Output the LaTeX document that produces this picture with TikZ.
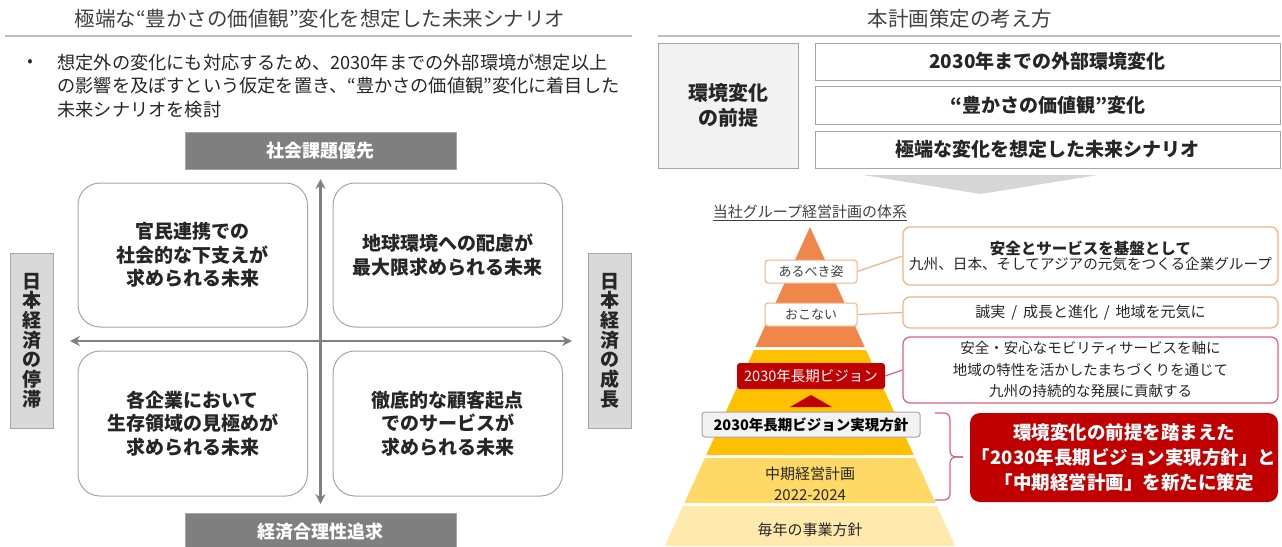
\documentclass[tikz,border=0pt]{standalone}
\usepackage{fontspec}
\setmainfont{Noto Sans CJK JP}
\usetikzlibrary{arrows.meta}
\definecolor{txt}{HTML}{262626}
\definecolor{ttl}{HTML}{404040}
\definecolor{rulegray}{HTML}{BFBFBF}
\definecolor{boxgray}{HTML}{A6A6A6}
\definecolor{darkgray}{HTML}{7F7F7F}
\definecolor{sidegray}{HTML}{D9D9D9}
\definecolor{paleg}{HTML}{F2F2F2}
\definecolor{axgray}{HTML}{808080}
\definecolor{chev}{HTML}{D6D6D6}
\definecolor{pyorange}{HTML}{F0874A}
\definecolor{pygold}{HTML}{FFC000}
\definecolor{pyyel}{HTML}{FFD966}
\definecolor{pypale}{HTML}{FFE9AD}
\definecolor{lorange}{HTML}{F4B183}
\definecolor{darkred}{HTML}{C00000}
\definecolor{pinkred}{HTML}{D9607A}
\newcommand\fsz[2]{\fontsize{#1}{#2}\selectfont}
\tikzset{
  qbox/.style={draw=boxgray, line width=1pt, rounded corners=22pt, fill=white,
    minimum width=229.5pt, minimum height=144pt, inner sep=0pt, align=center,
    font=\fsz{19}{23.5}\bfseries, text=txt},
  axisbox/.style={fill=darkgray, draw=boxgray, line width=0.6pt, minimum width=271pt,
    minimum height=37pt, inner sep=0pt, font=\fsz{18}{22}\bfseries, text=white},
  sidebox/.style={fill=sidegray, draw=boxgray, line width=0.8pt, minimum width=43pt,
    minimum height=175pt, inner sep=0pt, align=center, font=\fsz{19}{19.7}\bfseries, text=txt},
  axisline/.style={draw=axgray, line width=2.4pt, {Stealth[length=10pt,width=10pt]}-{Stealth[length=10pt,width=10pt]}},
  prembox/.style={draw=boxgray, line width=1pt, fill=white, minimum width=465pt,
    inner sep=0pt, font=\fsz{19}{23}\bfseries, text=txt},
  lvlabel/.style={draw=lorange, line width=1pt, fill=white, rounded corners=3pt,
    minimum width=92pt, minimum height=23pt, inner sep=0pt, font=\fsz{13}{16}, text=ttl},
  descbox/.style={line width=1.2pt, fill=white, rounded corners=7pt, minimum width=375pt,
    inner sep=0pt, align=center, text=txt},
  conn/.style={line width=1.2pt},
}
\begin{document}
\begin{tikzpicture}[x=1pt,y=-1pt]
\useasboundingbox (0,0) rectangle (1282,546);
% ---------------- left half ----------------
\node[font=\fsz{20.5}{24}, text=ttl] (ltitle) at (320,19) {極端な“豊かさの価値観”変化を想定した未来シナリオ};
\draw[rulegray, line width=1.4pt] (5,36) -- (632,36);
\node[font=\fsz{16}{20}, text=txt] (bullet) at (30,63) {•};
\node[anchor=west, align=left, font=\fsz{18.2}{23.5}, text=txt] (intro) at (54,86)
  {想定外の変化にも対応するため、2030年までの外部環境が想定以上\\の影響を及ぼすという仮定を置き、“豊かさの価値観”変化に着目した\\未来シナリオを検討};

\node[axisbox] (top) at (320.5,150.5) {社会課題優先};
\node[axisbox] (bottom) at (320.5,531.5) {経済合理性追求};
\node[sidebox] (left) at (31.5,340.5) {日\\本\\経\\済\\の\\停\\滞};
\node[sidebox] (right) at (609.5,340.5) {日\\本\\経\\済\\の\\成\\長};

\coordinate (axT) at (320.5,179);
\coordinate (axB) at (320.5,504);
\coordinate (axL) at (70,341);
\coordinate (axR) at (572,341);
\draw[axisline] (axB) -- (axT);
\draw[axisline] (axL) -- (axR);

\node[qbox] (q1) at (192.75,255) {官民連携での\\社会的な下支えが\\求められる未来};
\node[qbox] (q2) at (447.75,255) {地球環境への配慮が\\最大限求められる未来};
\node[qbox, minimum height=145pt] (q3) at (192.75,423.5) {各企業において\\生存領域の見極めが\\求められる未来};
\node[qbox, minimum height=145pt] (q4) at (447.75,423.5) {徹底的な顧客起点\\でのサービスが\\求められる未来};

% ---------------- right half ----------------
\node[font=\fsz{20.5}{24}, text=ttl] (rtitle) at (960,19) {本計画策定の考え方};
\draw[rulegray, line width=1.4pt] (658,36) -- (1280,36);

\node[draw=boxgray, line width=1pt, fill=paleg, minimum width=140pt, minimum height=125pt,
  inner sep=0pt, align=center, font=\fsz{20}{25}\bfseries, text=txt] (premise) at (728,105.5) {環境変化\\の前提};
\node[prembox, minimum height=37pt] (p1) at (1047.5,61.5) {2030年までの外部環境変化};
\node[prembox, minimum height=38pt] (p2) at (1047.5,105) {“豊かさの価値観”変化};
\node[prembox, minimum height=37pt] (p3) at (1047.5,149.5) {極端な変化を想定した未来シナリオ};

\fill[chev] (863,175) -- (1098,175) -- (980.5,194) -- cycle;

\node[font=\fsz{15}{18}, text=ttl] (systitle) at (810,213) {\underline{当社グループ経営計画の体系}};

% pyramid
\fill[pyorange] (810,227) -- (864.6,347) -- (755.4,347) -- cycle;
\fill[pygold] (754,350) -- (866,350) -- (913.7,455) -- (706.3,455) -- cycle;
\fill[pyyel] (704.9,458) -- (915.1,458) -- (935.6,503) -- (684.4,503) -- cycle;
\fill[pypale] (683,506) -- (937,506) -- (955.1,546) -- (664.9,546) -- cycle;

\node[lvlabel] (ideal) at (811,271.5) {あるべき姿};
\node[lvlabel] (conduct) at (811,314.5) {おこない};
\node[fill=darkred, rounded corners=3pt, minimum width=148pt, minimum height=26pt, inner sep=0pt,
  font=\fsz{14.5}{18}, text=white] (vision) at (811,376) {2030年長期ビジョン};
\fill[darkred] (811,395) -- (832,407) -- (790,407) -- cycle;
\node[draw=boxgray, line width=1pt, fill=paleg, rounded corners=3pt, minimum width=218pt,
  minimum height=25pt, inner sep=0pt, font=\fsz{14.5}{18}\bfseries, text=black] (policy) at (811,424.5) {2030年長期ビジョン実現方針};
\node[align=center, font=\fsz{15}{21}, text=txt] (midplan) at (810,483.5) {中期経営計画\\2022-2024};
\node[font=\fsz{15}{18}, text=txt] (annual) at (810,530) {毎年の事業方針};

\node[descbox, draw=lorange, minimum height=58pt] (d1) at (1090.5,256)
  {{\fsz{15.5}{23}\bfseries 安全とサービスを基盤として}\\{\fsz{14.6}{23}九州、日本、そしてアジアの元気をつくる企業グループ}};
\node[descbox, draw=lorange, minimum height=31pt, font=\fsz{15}{18}] (d2) at (1090.5,312.5)
  {誠実 \,/\, 成長と進化 \,/\, 地域を元気に};
\node[descbox, draw=pinkred, minimum height=66pt, font=\fsz{14.5}{21.5}] (d3) at (1090.5,370)
  {安全・安心なモビリティサービスを軸に\\地域の特性を活かしたまちづくりを通じて\\九州の持続的な発展に貢献する};

\draw[conn, lorange] (ideal.east) -- (d1.west);
\draw[conn, lorange] (conduct.east) -- (d2.west);
\draw[conn, pinkred] (vision.east) -- (d3.west);

\node[fill=darkred, rounded corners=10pt, minimum width=308pt, minimum height=89pt, inner sep=0pt,
  align=center, font=\fsz{18.5}{25}\bfseries, text=white] (result) at (1124,457.5)
  {環境変化の前提を踏まえた\\「2030年長期ビジョン実現方針」と\\「中期経営計画」を新たに策定};

% brace
\coordinate (brT) at (935,413);
\coordinate (brB) at (935,500);
\coordinate (brTip) at (963,457);
\draw[pinkred, line width=1.2pt, rounded corners=6pt]
  (brT) -- (950,413) -- (950,457) -- (brTip);
\draw[pinkred, line width=1.2pt, rounded corners=6pt]
  (brTip) -- (950,457) -- (950,500) -- (brB);
\end{tikzpicture}
\end{document}
